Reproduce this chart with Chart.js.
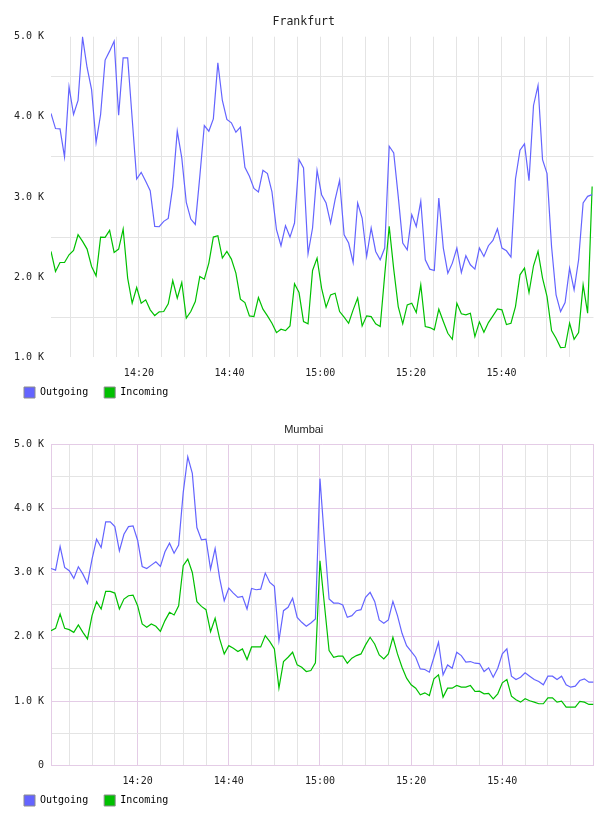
<!DOCTYPE html>
<html>
<head>
<meta charset="utf-8">
<script src="https://cdn.jsdelivr.net/npm/chart.js@4/dist/chart.umd.min.js"></script>
<style>
  body { margin: 0; background: #fff; }
  canvas { display: block; }
</style>
</head>
<body>
<canvas id="frankfurtChart" width="608" height="408"></canvas>
<canvas id="mumbaiChart" width="608" height="408"></canvas>
<script>
// ==========================================
// TRAFFIC CHARTS (one sample per minute, x = minutes after 14:00)
// ==========================================

const seriesLabels = ['Outgoing', 'Incoming'];

// Frankfurt samples
const frankfurtStart = 0.6;
const frankfurtStep = 0.995;
const frankfurtOutgoing = [
  4042, 3854, 3850, 3500, 4375, 4029, 4204, 4992, 4616, 4340,
  3679, 4029, 4708, 4820, 4945, 4020, 4737, 4737, 3980, 3225,
  3308, 3196, 3079, 2633, 2629, 2696, 2733, 3133, 3821, 3488,
  2933, 2725, 2658, 3258, 3892, 3821, 3975, 4675, 4204, 3967,
  3925, 3808, 3871, 3371, 3258, 3108, 3063, 3333, 3292, 3063,
  2592, 2392, 2642, 2500, 2675, 3467, 3363, 2292, 2613, 3333,
  3029, 2925, 2675, 2967, 3208, 2529, 2425, 2183, 2925, 2738,
  2258, 2613, 2321, 2217, 2363, 3633, 3550, 3008, 2425, 2342,
  2780, 2633, 2946, 2217, 2100, 2083, 2988, 2363, 2050, 2175,
  2363, 2058, 2267, 2154, 2100, 2363, 2258, 2392, 2458, 2604,
  2363, 2329, 2250, 3225, 3583, 3663, 3204, 4142, 4392, 3467,
  3292, 2383, 1779, 1571, 1683, 2113, 1842, 2217, 2925, 3008,
  3030,
];
const frankfurtIncoming = [
  2321, 2071, 2183, 2183, 2279, 2333, 2529, 2446, 2350, 2133,
  2017, 2500, 2496, 2583, 2308, 2350, 2600, 1988, 1675, 1871,
  1675, 1717, 1592, 1521, 1567, 1571, 1667, 1958, 1738, 1933,
  1488, 1571, 1696, 2008, 1975, 2175, 2500, 2517, 2238, 2321,
  2225, 2050, 1725, 1683, 1517, 1508, 1746, 1600, 1517, 1425,
  1308, 1350, 1333, 1392, 1917, 1808, 1446, 1417, 2083, 2238,
  1863, 1625, 1779, 1800, 1571, 1500, 1425, 1592, 1738, 1392,
  1517, 1508, 1417, 1383, 2029, 2633, 2100, 1633, 1417, 1654,
  1675, 1558, 1904, 1383, 1371, 1342, 1600, 1446, 1300, 1225,
  1675, 1542, 1529, 1550, 1258, 1442, 1313, 1433, 1517, 1604,
  1592, 1408, 1425, 1633, 2029, 2113, 1808, 2142, 2321, 1988,
  1758, 1333, 1238, 1121, 1125, 1425, 1225, 1308, 1904, 1550,
  3130,
];

// Mumbai samples
const mumbaiStart = 1.0;
const mumbaiStep = 1.0;
const mumbaiOutgoing = [
  3064, 3038, 3406, 3080, 3028, 2909, 3090, 2976, 2831, 3209,
  3520, 3390, 3789, 3789, 3716, 3338, 3597, 3716, 3727, 3504,
  3095, 3064, 3116, 3168, 3095, 3323, 3458, 3302, 3427, 4244,
  4803, 4545, 3701, 3509, 3520, 3054, 3375, 2909, 2562, 2759,
  2681, 2614, 2629, 2433, 2754, 2733, 2743, 2992, 2847, 2785,
  1941, 2407, 2459, 2599, 2303, 2226, 2164, 2215, 2277, 4462,
  3500, 2588, 2526, 2526, 2495, 2303, 2329, 2407, 2422, 2614,
  2692, 2552, 2262, 2210, 2262, 2552, 2329, 2055, 1863, 1775,
  1682, 1501, 1491, 1449, 1682, 1915, 1408, 1563, 1511, 1760,
  1708, 1605, 1615, 1589, 1584, 1460, 1517, 1372, 1511, 1734,
  1812, 1387, 1335, 1372, 1439, 1387, 1335, 1304, 1253, 1387,
  1387, 1335, 1387, 1253, 1216, 1232, 1320, 1346, 1294, 1294,
];
const mumbaiIncoming = [
  2096, 2132, 2355, 2132, 2112, 2070, 2184, 2070, 1967, 2329,
  2547, 2433, 2707, 2707, 2681, 2433, 2588, 2640, 2650, 2484,
  2200, 2148, 2200, 2164, 2086, 2252, 2381, 2340, 2484, 3106,
  3209, 3002, 2547, 2474, 2422, 2081, 2288, 1967, 1734, 1863,
  1822, 1770, 1812, 1646, 1842, 1842, 1842, 2019, 1925, 1812,
  1201, 1615, 1682, 1760, 1563, 1527, 1460, 1475, 1594, 3183,
  2484, 1786, 1682, 1698, 1698, 1589, 1667, 1708, 1734, 1874,
  1993, 1889, 1718, 1656, 1734, 1993, 1734, 1527, 1356, 1253,
  1201, 1097, 1128, 1087, 1346, 1408, 1061, 1201, 1201, 1242,
  1216, 1216, 1242, 1149, 1154, 1113, 1118, 1035, 1113, 1284,
  1335, 1077, 1020, 983, 1035, 1004, 983, 958, 958, 1051,
  1051, 983, 999, 906, 906, 906, 994, 983, 947, 947,
];

const outgoingColor = '#6464ff';
const incomingColor = '#00c000';
const gridGrey = '#e4e4e4';
const gridPurple = '#e4cce6';
const clear = 'rgba(0,0,0,0)';
const mono = "'DejaVu Sans Mono', monospace";

function toPoints(values, start, step) {
  return values.map((v, i) => ({ x: start + i * step, y: v }));
}

function timeLabel(minutes) {
  const h = 14 + Math.floor(minutes / 60);
  const m = minutes % 60;
  return h + ':' + String(m).padStart(2, '0');
}

function kLabel(value) {
  if (value === 0) return '0';
  return (value / 1000).toFixed(1) + ' K';
}

function makeDatasets(outgoing, incoming, start, step) {
  return [
    {
      label: seriesLabels[0],
      data: toPoints(outgoing, start, step),
      borderColor: outgoingColor,
      backgroundColor: outgoingColor,
      borderWidth: 1.2,
      pointRadius: 0,
      tension: 0,
    },
    {
      label: seriesLabels[1],
      data: toPoints(incoming, start, step),
      borderColor: incomingColor,
      backgroundColor: incomingColor,
      borderWidth: 1.2,
      pointRadius: 0,
      tension: 0,
    },
  ];
}

function makeConfig(opts) {
  return {
    type: 'line',
    data: { datasets: makeDatasets(opts.outgoing, opts.incoming, opts.start, opts.step) },
    options: {
      responsive: false,
      animation: false,
      layout: { padding: { left: 14, right: 14.5, top: 0, bottom: 0 } },
      plugins: {
        title: {
          display: true,
          text: opts.title,
          color: '#222',
          font: opts.titleFont,
          padding: { top: 15.5, bottom: 7.4 },
        },
        legend: {
          position: 'bottom',
          align: 'start',
          labels: {
            boxWidth: 11,
            boxHeight: 11,
            padding: 10,
            color: '#222',
            font: { family: mono, size: 10 },
            generateLabels: function (chart) {
              // trailing space keeps the gap between the two items
              return chart.data.datasets.map((ds, i) => ({
                text: ds.label + ' ',
                fillStyle: ds.borderColor,
                strokeStyle: '#8c8c8c',
                lineWidth: 1,
                hidden: false,
                datasetIndex: i,
              }));
            },
          },
        },
        tooltip: { enabled: false },
      },
      scales: {
        x: {
          type: 'linear',
          min: opts.xMin,
          max: opts.xMax,
          border: opts.border ? { display: true, color: gridPurple } : { display: false },
          grid: {
            drawTicks: false,
            color: opts.xGridColor,
          },
          ticks: {
            stepSize: 5,
            includeBounds: false,
            autoSkip: false,
            maxRotation: 0,
            padding: 10.5,
            color: '#222',
            font: { family: mono, size: 10 },
            callback: function (value) {
              return value % 20 === 0 && value < 120 ? timeLabel(value) : '';
            },
          },
          afterFit: function (scale) {
            scale.height = 19.7;
          },
        },
        y: {
          type: 'linear',
          min: opts.yMin,
          max: 5000,
          border: opts.border ? { display: true, color: gridPurple } : { display: false },
          grid: {
            drawTicks: false,
            color: opts.yGridColor,
          },
          ticks: {
            stepSize: 500,
            autoSkip: false,
            padding: 7,
            color: '#222',
            font: { family: mono, size: 10 },
            callback: function (value) {
              return value % 1000 === 0 ? kLabel(value) : '';
            },
          },
          afterFit: function (scale) {
            scale.width = 37;
          },
        },
      },
    },
  };
}

// 1. FRANKFURT
const frankfurtChart = new Chart(
  document.getElementById('frankfurtChart'),
  makeConfig({
    title: 'Frankfurt',
    titleFont: { family: mono, size: 11.5, weight: 'normal' },
    outgoing: frankfurtOutgoing,
    incoming: frankfurtIncoming,
    start: frankfurtStart,
    step: frankfurtStep,
    xMin: 0.6,
    xMax: 120.3,
    yMin: 1000,
    border: false,
    xGridColor: (ctx) => (ctx.tick && ctx.tick.value < 120 ? gridGrey : clear),
    yGridColor: (ctx) => (ctx.tick && ctx.tick.value % 1000 !== 0 ? gridGrey : clear),
  })
);

// 2. MUMBAI
const mumbaiChart = new Chart(
  document.getElementById('mumbaiChart'),
  makeConfig({
    title: 'Mumbai',
    titleFont: { family: "'Liberation Sans', sans-serif", size: 11, weight: 'normal' },
    outgoing: mumbaiOutgoing,
    incoming: mumbaiIncoming,
    start: mumbaiStart,
    step: mumbaiStep,
    xMin: 1.0,
    xMax: 120,
    yMin: 0,
    border: true,
    xGridColor: (ctx) => (ctx.tick && ctx.tick.value % 20 === 0 ? gridPurple : gridGrey),
    yGridColor: (ctx) => (ctx.tick && ctx.tick.value % 1000 === 0 ? gridPurple : gridGrey),
  })
);
</script>
</body>
</html>
